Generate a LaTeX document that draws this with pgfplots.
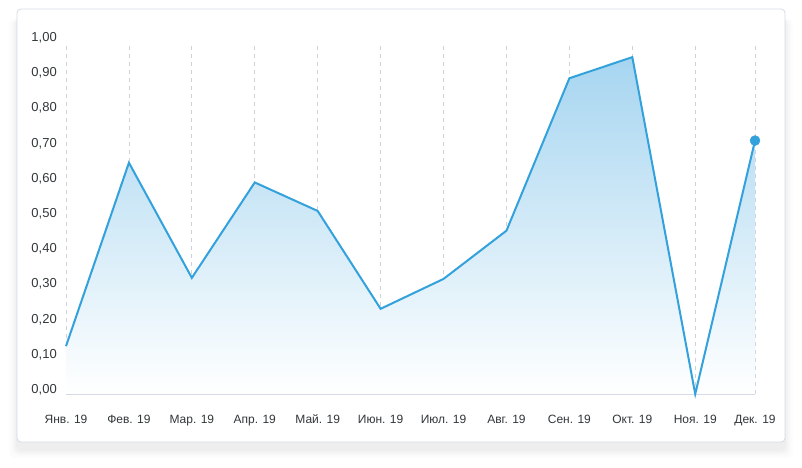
\documentclass[border=0pt]{standalone}
\usepackage{fontspec}
\setmainfont{Liberation Sans}
\usepackage{pgfplots}
\pgfplotsset{compat=1.18}

\definecolor{linec}{RGB}{51,161,220}
\definecolor{fillc}{RGB}{166,213,240}
\definecolor{gridc}{RGB}{205,210,220}
\definecolor{axisc}{RGB}{205,214,228}
\definecolor{cardc}{RGB}{212,219,230}
\definecolor{textc}{RGB}{50,55,58}

\pgfplotstableread{
x     y
0     0.136
1     0.657
2     0.330
3     0.601
4     0.520
5     0.242
6     0.327
7     0.464
8     0.897
9     0.957
10    0.000
10.95 0.720
}\sales

\begin{document}
\begin{tikzpicture}[x=1pt,y=1pt]
\path[use as bounding box] (0,0) rectangle (802,467);
% card shadow and card
\foreach \s/\o in {8/0.012,5/0.015,3/0.018,1/0.02}{
  \fill[black,opacity=\o,rounded corners=6pt] (17-\s,25-\s-8) rectangle (785+\s,458-10);
}
\filldraw[fill=white,draw=cardc,line width=0.8pt,rounded corners=4pt] (17,25) rectangle (785,458);

\begin{axis}[
  at={(66pt,73pt)}, anchor=south west,
  scale only axis,
  width=689pt, height=352pt,
  xmin=0, xmax=10.95,
  ymin=0, ymax=1,
  axis x line*=bottom, axis y line*=left,
  x axis line style={draw=axisc, line width=1pt, -},
  y axis line style={draw=none},
  major tick length=0pt,
  xtick={0,1,2,3,4,5,6,7,8,9,10,10.95},
  xticklabels={Янв. 19,Фев. 19,Мар. 19,Апр. 19,Май. 19,Июн. 19,Июл. 19,Авг. 19,Сен. 19,Окт. 19,Ноя. 19,Дек. 19},
  ytick={0,0.1,...,1.01},
  xmajorgrids,
  grid style={draw=gridc, line width=0.8pt, dash pattern=on 4pt off 4pt},
  /pgf/number format/assume math mode=true,
  /pgf/number format/fixed,
  /pgf/number format/fixed zerofill,
  /pgf/number format/precision=2,
  /pgf/number format/use comma,
  yticklabel style={anchor=base east, inner sep=0pt, xshift=-9pt, yshift=0.5pt,
    font=\fontsize{13}{13}\selectfont, text=textc},
  xticklabel style={anchor=base, inner sep=0pt, yshift=-29.3pt,
    font=\fontsize{12}{12}\selectfont, text=textc},
  clip=false,
]
\addplot[draw=none, top color=fillc, bottom color=white] table[x=x,y=y]{\sales} \closedcycle;
\addplot[linec, line width=2pt, line join=miter, mark=none] table[x=x,y=y]{\sales};
\addplot[linec, only marks, mark=*, mark size=5pt] coordinates {(10.95,0.720)};
\end{axis}
\end{tikzpicture}
\end{document}
